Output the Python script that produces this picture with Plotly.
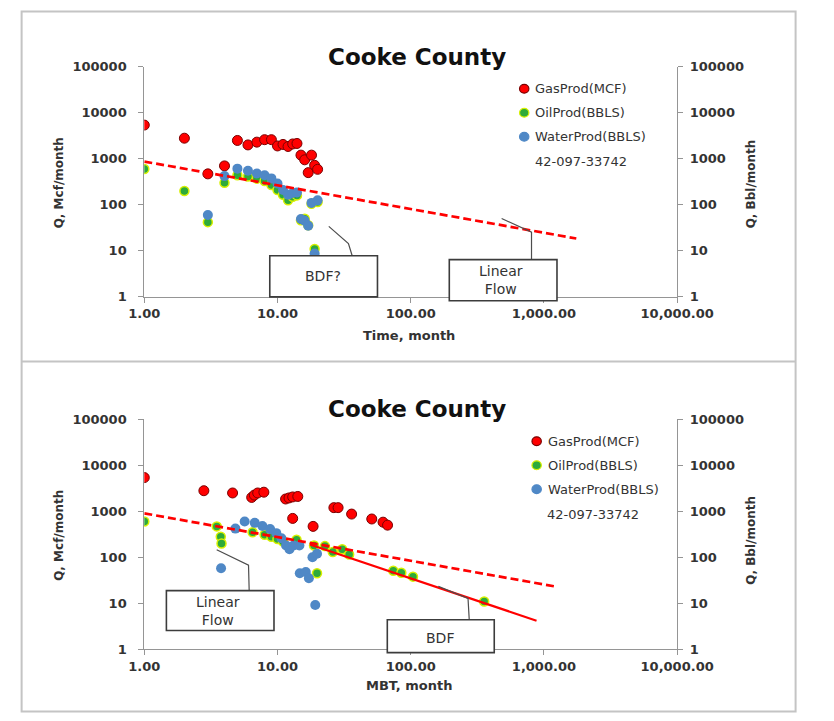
import plotly.graph_objects as go

W, H = 834, 721

# ---------------- data ----------------
x_tick_vals = [1, 10, 100, 1000, 10000]
x_tick_text = ["1.00", "10.00", "100.00", "1,000.00", "10,000.00"]
y_tick_vals = [1, 10, 100, 1000, 10000, 100000]
y_tick_text = ["1", "10", "100", "1000", "10000", "100000"]

# top chart: production vs time
time_month = list(range(1, 21))
gas_time = [5400, 2800, 470, 700, 2500, 2000, 2300, 2600, 2600, 1900,
            2050, 1850, 2100, 2150, 1200, 950, 500, 1200, 720, 590]
oil_time = [600, 200, 42, 300, 440, 410, 370, 330, 270, 210,
            165, 126, 150, 160, 46, 50, 36, 105, 11, 115]
water_time = [None, None, 60, 420, 610, 550, 480, 440, 375, 290,
              210, 165, 180, 185, 49, 45, 35, 110, 8.7, 125]

# bottom chart: production vs material balance time
gas_mbt_x = [1, 2.8, 4.6, 6.4, 6.7, 7.1, 7.9, 11.5, 12.2, 13.0, 14.2, 13.0, 18.5,
             26.5, 28.5, 36, 51, 62, 67]
gas_mbt_y = [5400, 2800, 2500, 2000, 2250, 2500, 2600, 1850, 1950, 2050, 2100, 700, 470,
             1200, 1200, 870, 680, 580, 500]
oil_mbt_x = [1, 3.5, 3.75, 3.8, 6.5, 8.0, 9.0, 10.0, 11.0, 13.9, 18.8, 19.8, 22.7,
             26.0, 30.6, 34.5, 74, 85, 104, 356]
oil_mbt_y = [600, 470, 280, 200, 350, 310, 280, 250, 220, 240, 180, 45, 175,
             130, 150, 115, 51, 46, 38, 11]
water_mbt_x = [3.77, 4.83, 5.67, 6.75, 7.7, 8.8, 9.8, 10.7, 11.6, 12.3, 13.2, 14.6,
               14.7, 16.3, 17.2, 18.3, 19.2, 19.8]
water_mbt_y = [58, 420, 600, 560, 480, 410, 335, 260, 180, 150, 180, 180,
               45, 48, 35, 100, 9.2, 120]

# hand-drawn trend lines
lin_time_x = [1, 1750]
lin_time_y = [870, 18.5]
lin_mbt_x = [1, 1240]
lin_mbt_y = [900, 23]
bdf_mbt_x = [17.5, 880]
bdf_mbt_y = [190, 4.2]

series_names = ["GasProd(MCF)", "OilProd(BBLS)", "WaterProd(BBLS)"]
well_id = "42-097-33742"
chart_title = "Cooke County"

# ---------------- styling helpers ----------------
def PX(x):
    return x / W


def PY(y):
    return 1 - y / H


RED = "#ff0000"
RED_EDGE = "#7a0000"
GREEN = "#2eaa3a"
GREEN_EDGE = "#d8f000"
BLUE = "#4f88c6"
AXIS = "#959595"
TXT = "#333333"
FONT = "DejaVu Sans"

gas_marker = dict(color=RED, size=10, line=dict(color=RED_EDGE, width=1))
oil_marker = dict(color=GREEN, size=9, line=dict(color=GREEN_EDGE, width=1.5))
water_marker = dict(color=BLUE, size=10, line=dict(width=0))

fig = go.Figure()

# top panel
fig.add_trace(go.Scatter(x=time_month, y=gas_time, mode="markers", name=series_names[0],
                         marker=gas_marker, xaxis="x", yaxis="y"))
fig.add_trace(go.Scatter(x=time_month, y=oil_time, mode="markers", name=series_names[1],
                         marker=oil_marker, xaxis="x", yaxis="y3"))
fig.add_trace(go.Scatter(x=time_month, y=water_time, mode="markers", name=series_names[2],
                         marker=water_marker, xaxis="x", yaxis="y3"))
fig.add_trace(go.Scatter(x=lin_time_x, y=lin_time_y, mode="lines",
                         line=dict(color=RED, width=2.7, dash="8px,4px"), xaxis="x", yaxis="y3"))

# bottom panel
fig.add_trace(go.Scatter(x=gas_mbt_x, y=gas_mbt_y, mode="markers", name=series_names[0],
                         marker=gas_marker, xaxis="x2", yaxis="y2"))
fig.add_trace(go.Scatter(x=oil_mbt_x, y=oil_mbt_y, mode="markers", name=series_names[1],
                         marker=oil_marker, xaxis="x2", yaxis="y4"))
fig.add_trace(go.Scatter(x=water_mbt_x, y=water_mbt_y, mode="markers", name=series_names[2],
                         marker=water_marker, xaxis="x2", yaxis="y4"))
fig.add_trace(go.Scatter(x=lin_mbt_x, y=lin_mbt_y, mode="lines",
                         line=dict(color=RED, width=2.7, dash="8px,4px"), xaxis="x2", yaxis="y4"))
fig.add_trace(go.Scatter(x=bdf_mbt_x, y=bdf_mbt_y, mode="lines",
                         line=dict(color=RED, width=2.2), xaxis="x2", yaxis="y4"))

x_dom = [PX(137), PX(706)]
top_dom = [PY(296), PY(61)]
bot_dom = [PY(656), PY(421)]

tickfont = dict(family=FONT, size=13, color=TXT, weight="bold")


def xax(anchor):
    return dict(domain=x_dom, type="log", range=[0, 4], anchor=anchor,
                tickvals=x_tick_vals, ticktext=x_tick_text, showgrid=False, zeroline=False,
                showline=True, linecolor=AXIS, linewidth=1, ticks="outside", ticklen=5,
                tickcolor=AXIS, tickfont=tickfont, ticklabelstandoff=0)


def yax(dom, anchor, side="left", overlay=None):
    d = dict(type="log", range=[0, 5], anchor=anchor, side=side,
             tickvals=y_tick_vals, ticktext=y_tick_text, showgrid=False, zeroline=False,
             showline=True, linecolor=AXIS, linewidth=1, ticks="outside", ticklen=5,
             tickcolor=AXIS, tickfont=tickfont,
             ticklabelstandoff=9 if side == "left" else 4)
    if overlay:
        d["overlaying"] = overlay
    else:
        d["domain"] = dom
    return d


fig.update_layout(
    width=W, height=H, margin=dict(l=0, r=0, t=0, b=0),
    paper_bgcolor="white", plot_bgcolor="rgba(0,0,0,0)",
    showlegend=False,
    xaxis=xax("y"),
    yaxis=yax(top_dom, "x"),
    yaxis3=yax(top_dom, "x", side="right", overlay="y"),
    xaxis2=xax("y2"),
    yaxis2=yax(bot_dom, "x2"),
    yaxis4=yax(bot_dom, "x2", side="right", overlay="y2"),
)

annotations = []
shapes = []

# frame around both panels
shapes.append(dict(type="rect", xref="paper", yref="paper", x0=PX(6), x1=PX(832.5),
                   y0=PY(719.5), y1=PY(4.5), line=dict(color="#c4c4c4", width=2)))
shapes.append(dict(type="line", xref="paper", yref="paper", x0=PX(6), x1=PX(832.5),
                   y0=PY(362), y1=PY(362), line=dict(color="#c4c4c4", width=2)))


def text(x, y, s, size=13, bold=False, color=TXT, angle=0, xanchor="center"):
    annotations.append(dict(x=PX(x), y=PY(y), xref="paper", yref="paper", text=s,
                            showarrow=False, textangle=angle, xanchor=xanchor, yanchor="middle",
                            font=dict(family=FONT, size=size, color=color,
                                      weight="bold" if bold else "normal")))


# panel texts
for dy, xt, legx in [(0, "Time, month", 542.7), (360, "MBT, month", 556)]:
    text(428, 51 + dy, chart_title, size=23, bold=True, color="#111111")
    text(420, 335 + dy - (2 if dy else 0), xt, size=13, bold=True)
    text(46, 180 + dy, "Q, Mcf/month", size=12, bold=True, angle=-90)
    text(785, 181 + dy + (4 if dy else 0), "Q, Bbl/month", size=12, bold=True, angle=-90)
    # legend
    rows = [(83.5, RED, RED_EDGE), (108, GREEN, GREEN_EDGE), (132.5, BLUE, BLUE)]
    for (ry, fc, ec), nm in zip(rows, series_names):
        ry = ry + dy
        shapes.append(dict(type="circle", xref="paper", yref="paper",
                           x0=PX(legx - 5), x1=PX(legx + 5), y0=PY(ry + 4.5), y1=PY(ry - 4.5),
                           fillcolor=fc, line=dict(color=ec, width=1.2)))
        text(legx + 9.5, ry, nm, size=13, xanchor="left")
    text(legx + 9, 158 + dy, well_id, size=13, xanchor="left")

# callouts
LINE_C = "#4d4d4d"


def callout(pts):
    path = "M " + " L ".join(f"{PX(a)},{PY(b)}" for a, b in pts)
    shapes.append(dict(type="path", xref="paper", yref="paper", path=path,
                       line=dict(color=LINE_C, width=1.2)))


def box(x0, y0, x1, y1):
    shapes.append(dict(type="rect", xref="paper", yref="paper", x0=PX(x0), x1=PX(x1),
                       y0=PY(y1), y1=PY(y0), fillcolor="white",
                       line=dict(color="#3c3c3c", width=1.6)))


callout([(334, 224), (355, 241.5), (359, 254)])
box(271, 254, 386, 296)
text(328, 275, "BDF?", size=14)

callout([(518.6, 216), (550.5, 230), (550.5, 258)])
box(462.7, 258, 577.7, 300)
text(518, 279, "Linear<br>Flow", size=14)

callout([(214.3, 554.3), (248.3, 570), (249, 596)])
box(160.6, 596, 275.5, 636.7)
text(216, 617, "Linear<br>Flow", size=14)

callout([(451, 591.7), (482.7, 604), (484, 625.7)])
box(396.5, 625.7, 510.7, 659.3)
text(453, 644, "BDF", size=14)

fig.update_layout(annotations=annotations, shapes=shapes)
fig.write_html("out.html")
